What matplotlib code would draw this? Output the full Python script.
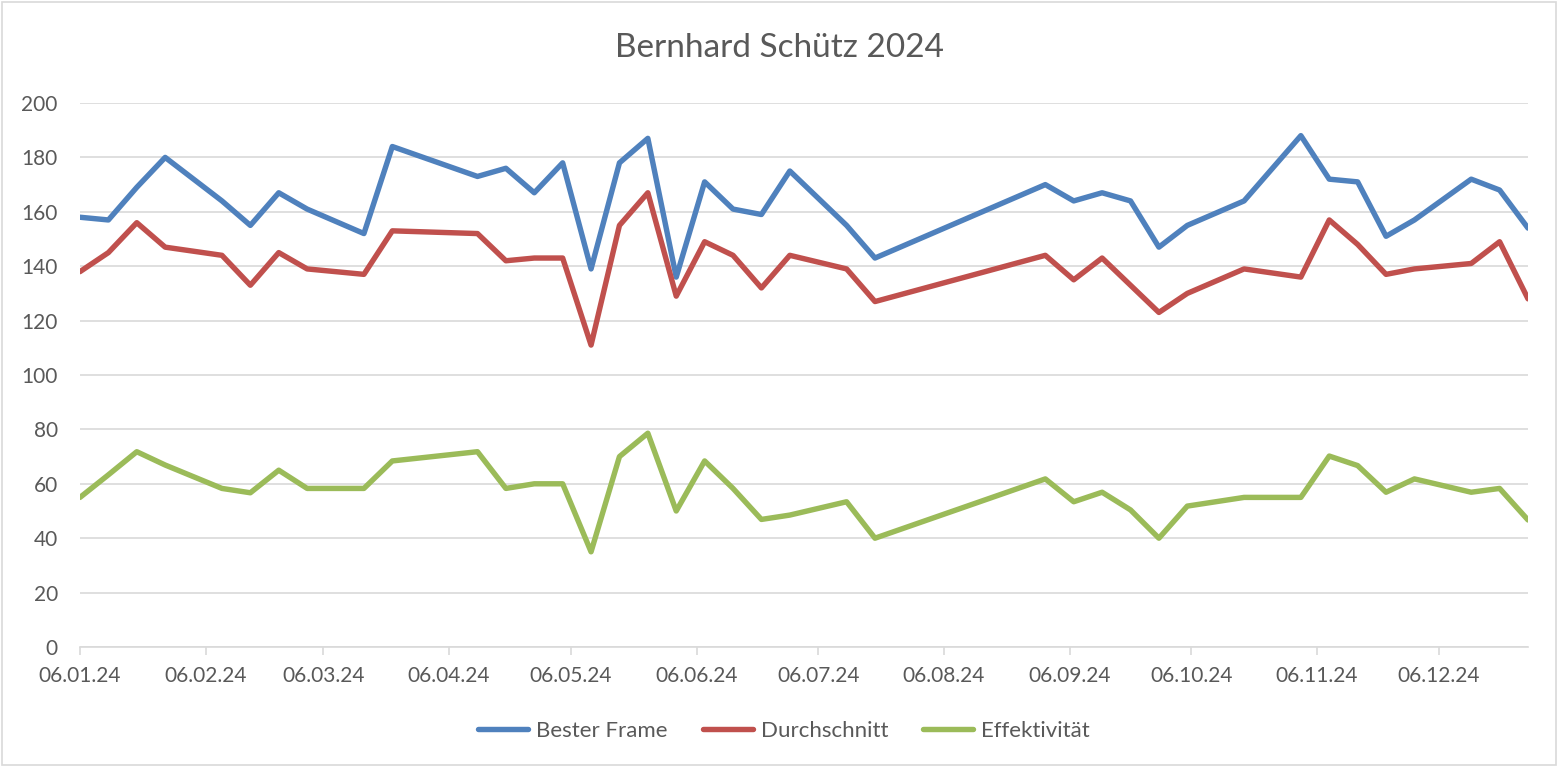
import pandas as pd
import matplotlib
matplotlib.use("Agg")
import matplotlib.pyplot as plt
import matplotlib.dates as mdates
from matplotlib.patches import Rectangle

plt.rcParams['font.family'] = ['Lato', 'DejaVu Sans']

title = "Bernhard Schütz 2024"

dates = ['2024-01-06', '2024-01-13', '2024-01-20', '2024-01-27', '2024-02-10', '2024-02-17',
         '2024-02-24', '2024-03-02', '2024-03-16', '2024-03-23', '2024-04-13', '2024-04-20',
         '2024-04-27', '2024-05-04', '2024-05-11', '2024-05-18', '2024-05-25', '2024-06-01',
         '2024-06-08', '2024-06-15', '2024-06-22', '2024-06-29', '2024-07-13', '2024-07-20',
         '2024-08-31', '2024-09-07', '2024-09-14', '2024-09-21', '2024-09-28', '2024-10-05',
         '2024-10-19', '2024-11-02', '2024-11-09', '2024-11-16', '2024-11-23', '2024-11-30',
         '2024-12-14', '2024-12-21', '2024-12-28']

bester_frame = [158, 157, 169, 180, 164, 155, 167, 161, 152, 184, 173, 176, 167, 178, 139, 178,
                187, 136, 171, 161, 159, 175, 155, 143, 170, 164, 167, 164, 147, 155, 164, 188,
                172, 171, 151, 157, 172, 168, 154]

durchschnitt = [138, 145, 156, 147, 144, 133, 145, 139, 137, 153, 152, 142, 143, 143, 111, 155,
                167, 129, 149, 144, 132, 144, 139, 127, 144, 135, 143, 133, 123, 130, 139, 136,
                157, 148, 137, 139, 141, 149, 128]

effektivitaet = [55, 63.3, 71.8, 66.9, 58.3, 56.7, 65, 58.3, 58.3, 68.4, 71.8, 58.3, 60, 60, 35,
                 70, 78.6, 50, 68.4, 58.3, 46.9, 48.5, 53.4, 40, 61.8, 53.4, 56.9, 50.4, 40, 51.8,
                 55, 55, 70.2, 66.7, 56.9, 61.8, 56.9, 58.3, 46.7]

series_names = ["Bester Frame", "Durchschnitt", "Effektivität"]
colors = ["#4F81BD", "#C0504D", "#9BBB59"]

x = pd.to_datetime(dates)
text_col = "#595959"
grid_col = "#D9D9D9"

W, H = 1559, 766
fig = plt.figure(figsize=(W / 100, H / 100), dpi=100)
ax = fig.add_axes([80 / W, 1 - 647 / H, (1528 - 80) / W, (647 - 103) / H])

for vals, name, c in zip([bester_frame, durchschnitt, effektivitaet], series_names, colors):
    ax.plot(x, vals, color=c, lw=3.9, label=name,
            solid_capstyle='round', solid_joinstyle='round', zorder=3)

ax.set_ylim(0, 200)
ax.set_yticks(range(0, 201, 20))
ax.set_xlim(x[0], x[-1])
ax.xaxis.set_major_locator(mdates.MonthLocator(bymonthday=6))
ax.xaxis.set_major_formatter(mdates.DateFormatter('%d.%m.%y'))

ax.grid(axis='y', color=grid_col, lw=1.2, zorder=0)
for s in ['top', 'right', 'left']:
    ax.spines[s].set_visible(False)
ax.spines['bottom'].set_color(grid_col)
ax.spines['bottom'].set_linewidth(1.2)
ax.tick_params(axis='y', length=0, pad=16, labelsize=15, labelcolor=text_col)
ax.tick_params(axis='x', length=6, width=1.2, color=grid_col, pad=8,
               labelsize=15, labelcolor=text_col)

fig.text(0.5, 1 - 48 / H, title, ha='center', va='center', fontsize=24, color=text_col)

fig.legend(loc='center', bbox_to_anchor=(784 / W, 1 - 731 / H), ncol=3, frameon=False,
           fontsize=16, labelcolor=text_col, handlelength=2.25, handletextpad=0.36,
           columnspacing=1.58)

fig.patches.append(Rectangle((2 / W, 1 / H), (W - 5) / W, (H - 3) / H, transform=fig.transFigure,
                             fill=False, edgecolor=grid_col, lw=1.2))

fig.savefig("out.png", dpi=100, facecolor="white")
